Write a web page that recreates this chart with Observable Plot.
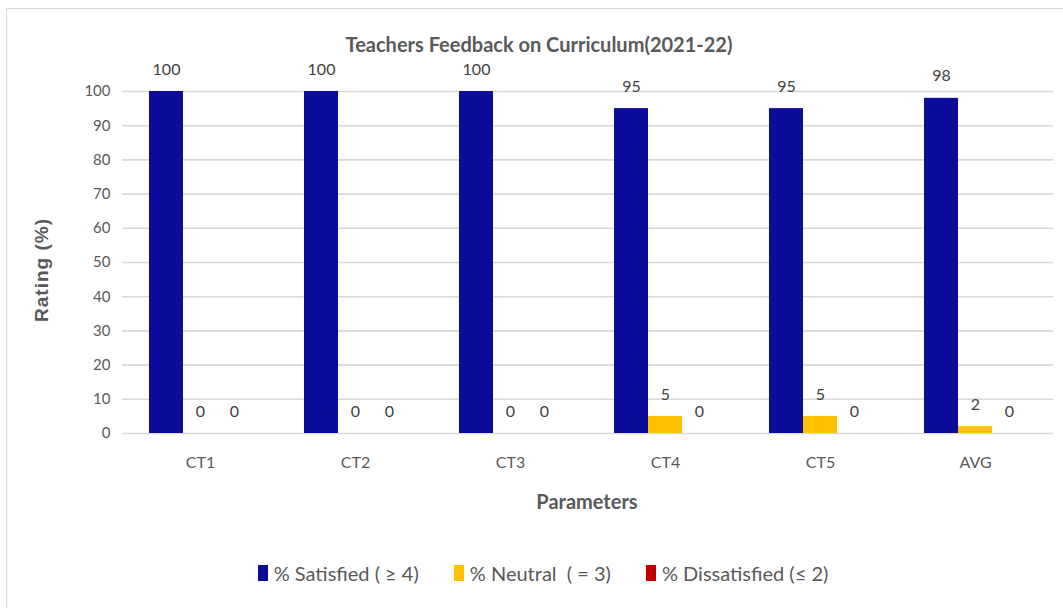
<!DOCTYPE html>
<html>
<head>
<meta charset="utf-8">
<script src="https://cdn.jsdelivr.net/npm/d3@7"></script>
<script src="https://cdn.jsdelivr.net/npm/@observablehq/plot@0.6"></script>
<style>
  html, body { margin: 0; padding: 0; background: #fff; }
  body { width: 1063px; height: 608px; overflow: hidden; position: relative;
         font-family: Lato, "Open Sans", sans-serif; }
  #frame { position: absolute; left: 6px; top: 8px; width: 1070px; height: 620px;
           border-left: 1.5px solid #d9d9d9; border-top: 1.5px solid #d9d9d9; }
  #title { position: absolute; left: 0; width: 1078px; top: 32px; text-align: center;
           font-size: 20px; font-weight: bold; color: #595959; }
  #chart { position: absolute; left: 0; top: 60px; }
  #ylabel { position: absolute; left: 42px; top: 270px; transform: translate(-50%, -50%) rotate(-90deg);
            font-family: "Liberation Sans", Arial, sans-serif; font-size: 19px; font-weight: bold; letter-spacing: 1px; color: #595959; white-space: nowrap; }
  #xlabel { position: absolute; left: 0; width: 1174px; top: 489px; text-align: center;
            font-size: 20px; font-weight: bold; color: #595959; }
  #legend { position: absolute; left: 0; width: 1086px; top: 561px; display: flex;
            justify-content: center; gap: 35px; font-size: 20px; color: #595959; }
  #legend span.item { display: flex; align-items: center; white-space: pre; }
  #legend span.sw { display: inline-block; width: 10px; height: 16px; margin-right: 6px; }
</style>
</head>
<body>
<div id="frame"></div>
<div id="title">Teachers Feedback on Curriculum(2021-22)</div>
<div id="chart"></div>
<div id="ylabel">Rating (%)</div>
<div id="xlabel">Parameters</div>
<div id="legend"></div>
<script>
const categories = ["CT1", "CT2", "CT3", "CT4", "CT5", "AVG"];
const seriesNames = ["% Satisfied ( \u2265 4)", "% Neutral  ( = 3)", "% Dissatisfied (\u2264 2)"];
const seriesColors = ["#0c0c9a", "#ffc000", "#c00000"];
const satisfied = [100, 100, 100, 95, 95, 98];
const neutral = [0, 0, 0, 5, 5, 2];
const dissatisfied = [0, 0, 0, 0, 0, 0];
const yTicks = [0, 10, 20, 30, 40, 50, 60, 70, 80, 90, 100];

const seriesValues = [satisfied, neutral, dissatisfied];
const data = [];
categories.forEach((c, i) => {
  seriesNames.forEach((s, j) => {
    data.push({category: c, series: s, value: seriesValues[j][i]});
  });
});

const font = 'Lato, "Open Sans", sans-serif';

const plot = Plot.plot({
  width: 1063,
  height: 470,
  marginLeft: 120,
  marginRight: 8,
  marginTop: 31,
  marginBottom: 97,
  style: {fontFamily: font, fontSize: "15px", color: "#595959", background: "transparent", overflow: "visible"},
  fx: {domain: categories, paddingInner: 0.33, paddingOuter: 0.165, label: null, axis: null},
  x: {domain: seriesNames, padding: 0, axis: null},
  y: {domain: [0, 100], axis: null},
  color: {domain: seriesNames, range: seriesColors},
  marks: [
    Plot.ruleY(yTicks, {y: d => d, stroke: "#d9d9d9", strokeWidth: 1.6, insetLeft: -26, insetRight: -26}),
    Plot.axisY({ticks: yTicks, tickSize: 0, tickPadding: 38, label: null, fontSize: 15, fill: "#595959", anchor: "left"}),
    Plot.axisFx({anchor: "bottom", tickSize: 0, tickPadding: 23, label: null, fontSize: 16, fill: "#595959"}),
    Plot.barY(data, {fx: "category", x: "series", y: "value", fill: "series", insetLeft: 0, insetRight: 0}),
    Plot.text(data, {fx: "category", x: "series", y: "value", text: d => String(d.value), dy: -22, fontSize: 16, fill: "#404040", fontWeight: d => d.series === seriesNames[0] ? "bold" : "normal"})
  ]
});
document.getElementById("chart").appendChild(plot);

const legend = document.getElementById("legend");
seriesNames.forEach((s, j) => {
  const item = document.createElement("span");
  item.className = "item";
  const sw = document.createElement("span");
  sw.className = "sw";
  sw.style.background = seriesColors[j];
  item.appendChild(sw);
  item.appendChild(document.createTextNode(s));
  legend.appendChild(item);
});
</script>
</body>
</html>
